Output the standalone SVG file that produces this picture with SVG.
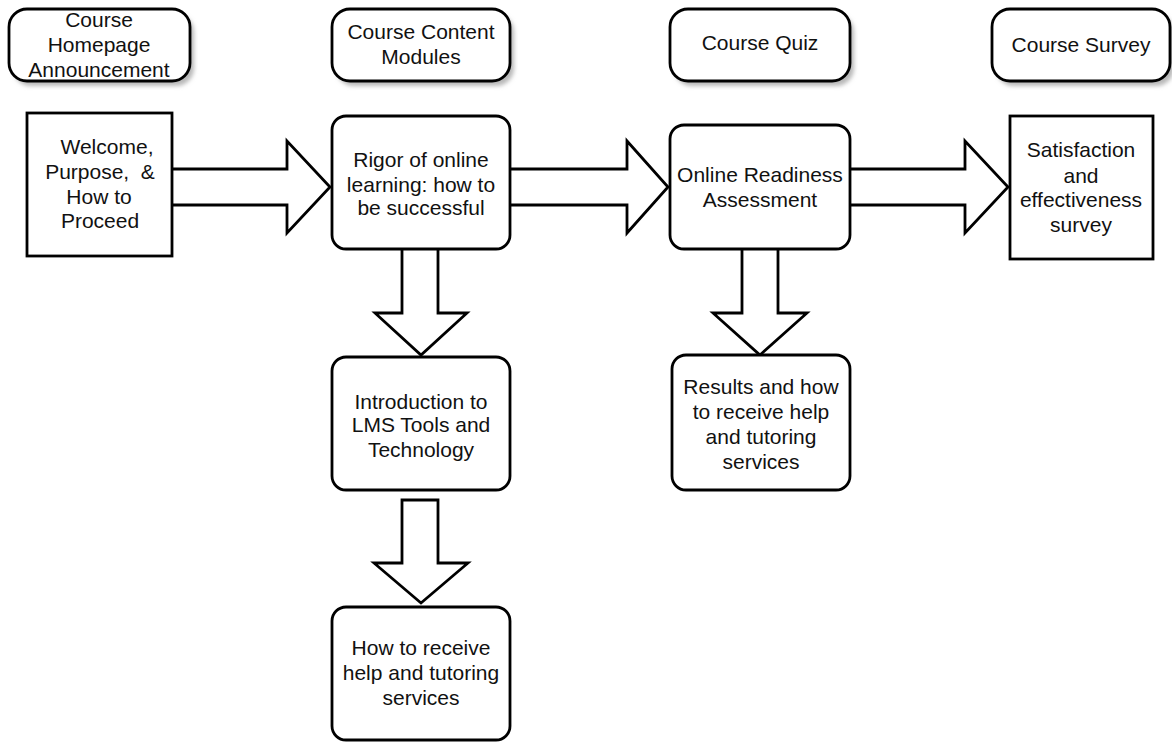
<svg xmlns="http://www.w3.org/2000/svg" width="1172" height="742" viewBox="0 0 1172 742">
<style>
.hdr{fill:#fff;stroke:#000;stroke-width:2.8}
.shd{fill:#b8b8b8;filter:url(#blur)}
.box{fill:#fff;stroke:#000;stroke-width:2.8}
.arr{fill:#fff;stroke:#000;stroke-width:2.8;stroke-linejoin:miter}
text{font-family:"Liberation Sans",Arial,sans-serif;font-size:21px;fill:#111;text-anchor:middle;white-space:pre}
</style>
<defs>
<filter id="blur" x="-10%" y="-20%" width="120%" height="140%"><feGaussianBlur stdDeviation="2"/></filter>
</defs>
<rect width="1172" height="742" fill="#fff"/>
<g id="connectors">
<path class="arr" d="M172,169 H287 V141 L330,187 L287,233 V205 H172"/>
<path class="arr" d="M510,169 H627 V141 L668,187 L627,233 V205 H510"/>
<path class="arr" d="M850,169 H965 V141 L1008,187 L965,233 V205 H850"/>
<path class="arr" d="M402,250 V313 H375 L421,355 L467,313 H438 V250"/>
<path class="arr" d="M402,500 V563 H374 L421,603 L468,563 H438 V500 Z"/>
<path class="arr" d="M742,250 V313 H713 L760,355 L807,313 H778 V250"/>
</g>
<g id="hdr-announcement">
<rect class="shd" x="13" y="14" width="181" height="72" rx="18"/>
<rect class="hdr" x="9" y="9" width="181" height="72" rx="18"/>
<text x="99" y="27">Course</text>
<text x="99" y="52">Homepage</text>
<text x="99" y="77">Announcement</text>
</g>
<g id="hdr-modules">
<rect class="shd" x="336" y="14" width="178" height="72" rx="18"/>
<rect class="hdr" x="332" y="9" width="178" height="72" rx="18"/>
<text x="421" y="39">Course Content</text>
<text x="421" y="64">Modules</text>
</g>
<g id="hdr-quiz">
<rect class="shd" x="674" y="14" width="180" height="72" rx="18"/>
<rect class="hdr" x="670" y="9" width="180" height="72" rx="18"/>
<text x="760" y="50">Course Quiz</text>
</g>
<g id="hdr-survey">
<rect class="shd" x="996" y="14" width="178" height="72" rx="18"/>
<rect class="hdr" x="992" y="9" width="178" height="72" rx="18"/>
<text x="1081" y="52">Course Survey</text>
</g>
<g id="welcome">
<rect class="box" x="27" y="113" width="145" height="143"/>
<text x="107" y="154">Welcome,</text>
<text x="100" y="179">Purpose,  &amp;</text>
<text x="99" y="204">How to</text>
<text x="100" y="228">Proceed</text>
</g>
<g id="rigor">
<rect class="box" x="332" y="116" width="178" height="133" rx="14"/>
<text x="421" y="167">Rigor of online</text>
<text x="421" y="192">learning: how to</text>
<text x="421" y="215">be successful</text>
</g>
<g id="readiness">
<rect class="box" x="670" y="125" width="180" height="124" rx="14"/>
<text x="760" y="182">Online Readiness</text>
<text x="760" y="207">Assessment</text>
</g>
<g id="satisfaction">
<rect class="box" x="1010" y="116" width="143" height="143"/>
<text x="1081" y="157">Satisfaction</text>
<text x="1081" y="183">and</text>
<text x="1081" y="207">effectiveness</text>
<text x="1081" y="232">survey</text>
</g>
<g id="lms">
<rect class="box" x="332" y="357" width="178" height="133" rx="14"/>
<text x="421" y="409">Introduction to</text>
<text x="421" y="432">LMS Tools and</text>
<text x="421" y="457">Technology</text>
</g>
<g id="help">
<rect class="box" x="332" y="607" width="178" height="133" rx="14"/>
<text x="421" y="655">How to receive</text>
<text x="421" y="680">help and tutoring</text>
<text x="421" y="705">services</text>
</g>
<g id="results">
<rect class="box" x="672" y="355" width="178" height="135" rx="14"/>
<text x="761" y="394">Results and how</text>
<text x="761" y="419">to receive help</text>
<text x="761" y="444">and tutoring</text>
<text x="761" y="469">services</text>
</g>
</svg>
